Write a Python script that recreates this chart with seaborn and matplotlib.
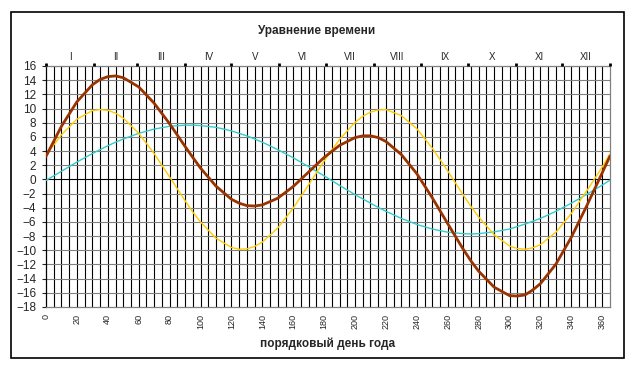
import numpy as np
import pandas as pd
import seaborn as sns
import matplotlib.pyplot as plt
from matplotlib.patches import Rectangle

# values (mostly every 10 days, extra points near the extremes)
days = [0, 10, 20, 30, 35, 40, 45, 50, 60, 70, 80, 90, 95, 100, 110, 120, 125, 130, 135, 140, 150, 160, 170, 180,
        190, 200, 205, 210, 215, 220, 230, 240, 250, 260, 270, 275, 280, 290, 300, 305, 310, 315, 320, 330, 340,
        350, 360, 365]
yellow = [3.4, 6.3, 8.5, 9.7, 9.85, 9.75, 9.35, 8.65, 6.5, 3.65, 0.35, -3.0, -4.6, -6.0, -8.3, -9.6, -9.85, -9.8,
          -9.45, -8.85, -6.85, -4.05, -0.75, 2.6, 5.65, 8.05, 8.9, 9.5, 9.8, 9.85, 9.0, 7.15, 4.4, 1.2, -2.2, -3.8,
          -5.3, -7.8, -9.4, -9.75, -9.85, -9.65, -9.2, -7.45, -4.8, -1.6, 1.75, 3.6]
cyan = [-0.15, 1.15, 2.45, 3.65, 4.2, 4.75, 5.25, 5.7, 6.5, 7.1, 7.5, 7.65, 7.65, 7.6, 7.35, 6.85, 6.5, 6.15, 5.7,
        5.25, 4.2, 3.05, 1.8, 0.5, -0.85, -2.15, -2.75, -3.35, -3.95, -4.5, -5.5, -6.35, -7.0, -7.45, -7.65, -7.7,
        -7.65, -7.4, -7.0, -6.65, -6.3, -5.9, -5.5, -4.5, -3.35, -2.1, -0.8, -0.1]
brown = [3.25, 7.5, 10.95, 13.35, 14.1, 14.5, 14.6, 14.35, 13.05, 10.75, 7.85, 4.65, 3.1, 1.6, -0.95, -2.8, -3.35,
         -3.7, -3.75, -3.6, -2.65, -1.0, 1.05, 3.1, 4.8, 5.9, 6.15, 6.15, 5.9, 5.35, 3.5, 0.8, -2.6, -6.25, -9.85,
         -11.5, -12.95, -15.2, -16.4, -16.45, -16.3, -15.6, -14.7, -11.95, -8.15, -3.7, 0.95, 3.3]

month_edges = [0, 31, 59, 90, 120, 151, 181, 212, 243, 273, 304, 334, 365]
month_labels = ['I', 'II', 'III', 'IV', 'V', 'VI', 'VII', 'VIII', 'IX', 'X', 'XI', 'XII']

sns.set_style('white')
plt.rcParams['font.family'] = ['Liberation Sans', 'DejaVu Sans']

fig = plt.figure(figsize=(6.4, 3.8), dpi=100)
fig.patches.append(Rectangle((11 / 640, 1 - 358 / 380), 613 / 640, 346 / 380, transform=fig.transFigure,
                             fill=False, edgecolor='black', linewidth=1.2))
ax = fig.add_axes([46 / 640, 1 - 307 / 380, 564 / 640, 241 / 380])

# grid
for x in range(5, 365, 5):
    ax.axvline(x, color='black', linewidth=0.8, zorder=1)
for y in range(-16, 16, 2):
    ax.axhline(y, color='#808080' if y != 0 else 'black', linewidth=0.8, zorder=1)

df = pd.DataFrame({'day': days, 'yellow': yellow, 'cyan': cyan, 'brown': brown})
sns.lineplot(data=df, x='day', y='cyan', ax=ax, color='#33CCCC', linewidth=1.0, zorder=3)
sns.lineplot(data=df, x='day', y='yellow', ax=ax, color='#FFCC00', linewidth=1.0, zorder=3)
sns.lineplot(data=df, x='day', y='brown', ax=ax, color='#993300', linewidth=2.0, zorder=4)

ax.set_xlim(0, 365)
ax.set_ylim(-18, 16)
ax.set_yticks(range(-18, 17, 2))
ax.set_xticks(range(0, 361, 20))
ax.tick_params(axis='y', labelsize=8.5, length=3, width=0.8, direction='out', left=True, pad=4)
ax.tick_params(axis='x', labelsize=6.5, length=0, rotation=90, pad=5)
for s in ['top', 'right', 'bottom']:
    ax.spines[s].set_color('#808080')
    ax.spines[s].set_linewidth(0.9)
ax.spines['left'].set_color('black')
ax.spines['left'].set_linewidth(0.9)
ax.set_ylabel('')
ax.set_xlabel('порядковый день года', fontsize=8.5, fontweight='bold', labelpad=6)

# months on top
top = ax.twiny()
top.set_xlim(0, 365)
top.set_xticks(month_edges)
top.set_xticklabels([])
top.set_xticks([(a + b) / 2 for a, b in zip(month_edges[:-1], month_edges[1:])], minor=True)
top.set_xticklabels(month_labels, minor=True, fontsize=7)
top.tick_params(axis='x', which='major', length=2.5, width=2, color='black', direction='out')
top.tick_params(axis='x', which='minor', length=0, pad=3)
for s in top.spines.values():
    s.set_visible(False)

fig.text(317 / 640, 1 - 31 / 380, 'Уравнение времени', ha='center', va='center',
         fontsize=8.5, fontweight='bold')

fig.savefig('out.png', dpi=100)
